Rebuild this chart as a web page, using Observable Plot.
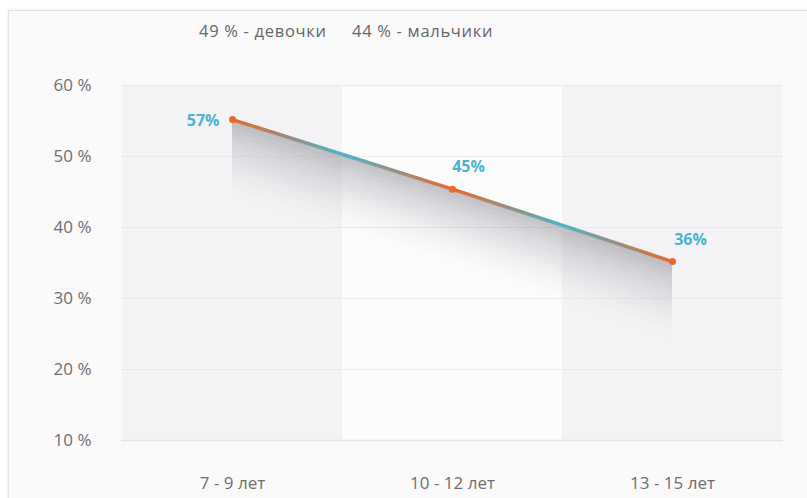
<!DOCTYPE html>
<html><head><meta charset="utf-8">
<script src="https://cdn.jsdelivr.net/npm/d3@7"></script>
<script src="https://cdn.jsdelivr.net/npm/@observablehq/plot@0.6"></script>
<style>
body{margin:0;background:#fff;}
#wrap{position:relative;width:807px;height:498px;overflow:hidden;font-family:"Open Sans",sans-serif;}
#card{position:absolute;left:8px;top:10px;width:830px;height:520px;background:#fafafb;border:1px solid #e2e2e5;box-shadow:0 0 3px rgba(0,0,0,0.10);}
#legend{position:absolute;top:19px;left:0;font-size:16.5px;color:#666;white-space:nowrap;letter-spacing:0.7px;}
#legend span{position:absolute;}
#chart{position:absolute;left:0;top:0;}
</style>
</head><body>
<div id="wrap"><div id="card"></div><div id="legend"></div><div id="chart"></div></div>
<script>
const categories = ["7 - 9 лет", "10 - 12 лет", "13 - 15 лет"];
const values = [55.2, 45.4, 35.2];
const valueLabels = ["57%", "45%", "36%"];
const yTicks = [10, 20, 30, 40, 50, 60];
const legendItems = ["49 % - девочки", "44 % - мальчики"];

const legendLeft = [199, 352];
const lg = document.getElementById("legend");
legendItems.forEach((t, i) => {
  const s = document.createElement("span");
  s.textContent = t;
  s.style.left = legendLeft[i] + "px";
  lg.appendChild(s);
});

const data = categories.map((c, i) => ({cat: c, v: values[i], label: valueLabels[i]}));
const N = 20, step = 0.6;
const shadowMarks = d3.range(N).map(k => Plot.areaY(data, {
  x: "cat",
  y1: d => d.v - k * step,
  y2: d => d.v - (k + 1) * step,
  fill: "#85858e",
  fillOpacity: 0.5 * Math.pow(1 - k / N, 2),
  curve: "linear"
}));

const ORANGE = "#e8692c", TEAL = "#4bb4cc";

const svg = Plot.plot({
  width: 807, height: 498,
  marginLeft: 121, marginRight: 24, marginTop: 85, marginBottom: 58,
  style: {fontFamily: "Open Sans, sans-serif", fontSize: "17px", color: "#6e6e6e", background: "transparent", overflow: "visible"},
  x: {type: "band", domain: categories, padding: 0, label: null},
  y: {domain: [10, 60], label: null},
  marks: [
    Plot.barY(categories.filter((d, i) => i % 2 === 0), {x: d => d, y1: 10, y2: 60, fill: "#f3f3f5"}),
    Plot.barY(categories.filter((d, i) => i % 2 === 1), {x: d => d, y1: 10, y2: 60, fill: "#fcfcfd"}),
    Plot.ruleY(yTicks.filter(d => d > 10), {stroke: "#eaeaed", strokeWidth: 1}),
    Plot.ruleY([10], {stroke: "#e3e3e6", strokeWidth: 1.5}),
    ...shadowMarks,
    Plot.line(data, {x: "cat", y: "v", stroke: "url(#lineGrad)", strokeWidth: 3.5}),
    Plot.dot(data, {x: "cat", y: "v", r: 3.5, fill: ORANGE}),
    Plot.text(data.slice(0, 1), {x: "cat", y: "v", text: "label", dx: -13, dy: 1, textAnchor: "end", fill: TEAL, fontWeight: 700, fontSize: 16}),
    Plot.text(data.slice(1, 2), {x: "cat", y: "v", text: "label", dx: 16, dy: -22, fill: TEAL, fontWeight: 700, fontSize: 16}),
    Plot.text(data.slice(2, 3), {x: "cat", y: "v", text: "label", dx: 18, dy: -22, fill: TEAL, fontWeight: 700, fontSize: 16}),
    Plot.axisY(yTicks, {tickSize: 0, tickPadding: 30, tickFormat: d => d + " %", fontSize: 17, fill: "#6e6e6e"}),
    Plot.axisX({tickSize: 0, tickPadding: 36, fontSize: 17, fill: "#6e6e6e"})
  ]
});

const defs = d3.select(svg).insert("defs", ":first-child");
const g = defs.append("linearGradient").attr("id", "lineGrad").attr("x1", "0%").attr("x2", "100%").attr("y1", "0%").attr("y2", "0%");
[[0, ORANGE], [0.25, TEAL], [0.5, ORANGE], [0.75, TEAL], [1, ORANGE]].forEach(([o, c]) =>
  g.append("stop").attr("offset", o).attr("stop-color", c));

document.getElementById("chart").appendChild(svg);
</script>
</body></html>
